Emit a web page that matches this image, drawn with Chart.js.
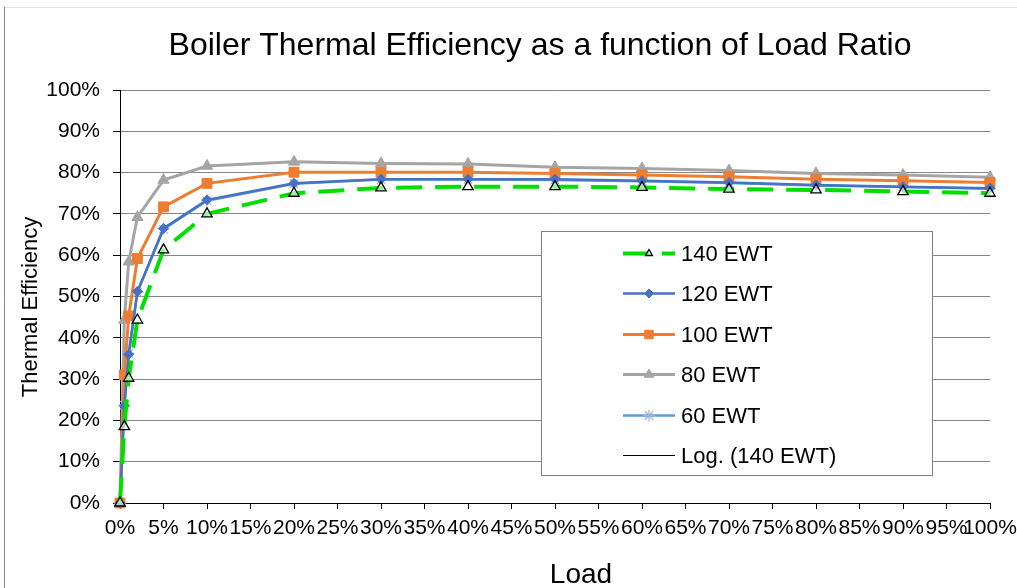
<!DOCTYPE html>
<html>
<head>
<meta charset="utf-8">
<script src="https://cdn.jsdelivr.net/npm/chart.js@4/dist/chart.umd.min.js"></script>
<style>
  html, body { margin: 0; padding: 0; background: #fff; }
  #wrap { width: 1017px; height: 588px; }
</style>
</head>
<body>
<div id="wrap"><canvas id="effChart" width="1017" height="588"></canvas></div>
<script>
// --- DATA ---
const chartTitle = 'Boiler Thermal Efficiency as a function of Load Ratio';
const xTitle = 'Load';
const yTitle = 'Thermal Efficiency';

// load ratio in %
const loadPct = [0, 0.5, 1, 2, 5, 10, 20, 30, 40, 50, 60, 70, 80, 90, 100];

// thermal efficiency in %, one list per entering water temperature
const ewt140 = [0, 18.5, 30.2, 44.3, 61.3, 70.0, 75.0, 76.3, 76.6, 76.6, 76.4, 76.0, 75.8, 75.4, 75.0];
const ewt120 = [0, 23.5, 36.0, 51.2, 66.5, 73.4, 77.4, 78.4, 78.4, 78.4, 78.0, 77.6, 77.0, 76.6, 76.2];
const ewt100 = [0, 31.0, 45.3, 59.2, 71.7, 77.4, 80.1, 80.1, 80.1, 79.8, 79.4, 79.0, 78.4, 78.0, 77.6];
const ewt80  = [0, 44.3, 58.4, 69.2, 78.2, 81.6, 82.6, 82.2, 82.1, 81.3, 81.0, 80.5, 79.8, 79.4, 78.9];
const ewt60  = [0, 23.7, 36.2, 51.0, 66.3, 73.2, 77.3, 78.3, 78.3, 78.2, 77.9, 77.5, 76.9, 76.5, 76.1];

const seriesLabels = ['140 EWT', '120 EWT', '100 EWT', '80 EWT', '60 EWT', 'Log. (140 EWT)'];

const fontFamily = '"Liberation Sans", Arial, sans-serif';

function toPoints(values) {
    return values.map((v, i) => ({ x: loadPct[i], y: v }));
}

const datasets = [
    {
        label: seriesLabels[0], data: toPoints(ewt140),
        borderColor: '#00e000', borderWidth: 4, borderDash: [26, 13],
        pointStyle: 'triangle', pointRadius: 6, pointBackgroundColor: 'rgba(255,255,255,0.6)',
        pointBorderColor: '#000', pointBorderWidth: 1.3, legendRadius: 4
    },
    {
        label: seriesLabels[1], data: toPoints(ewt120),
        borderColor: '#4472c4', borderWidth: 2.5,
        pointStyle: 'rectRot', pointRadius: 5, pointBackgroundColor: '#4472c4',
        pointBorderColor: '#4472c4', pointBorderWidth: 1, legendRadius: 4.5
    },
    {
        label: seriesLabels[2], data: toPoints(ewt100),
        borderColor: '#ed7d31', borderWidth: 3,
        pointStyle: 'rect', pointRadius: 7, pointBackgroundColor: '#ed7d31',
        pointBorderColor: '#ed7d31', pointBorderWidth: 1, legendRadius: 6
    },
    {
        label: seriesLabels[3], data: toPoints(ewt80),
        borderColor: '#a5a5a5', borderWidth: 3,
        pointStyle: 'triangle', pointRadius: 6.5, pointBackgroundColor: '#a5a5a5',
        pointBorderColor: '#a5a5a5', pointBorderWidth: 1, legendRadius: 5.5
    },
    {
        label: seriesLabels[4], data: toPoints(ewt60),
        borderColor: '#5b9bd5', borderWidth: 2.5,
        pointStyle: 'star', pointRadius: 6, pointBackgroundColor: '#9fb4cf',
        pointBorderColor: '#9fb4cf', pointBorderWidth: 1.2, legendRadius: 6
    },
    {
        label: seriesLabels[5], data: [],
        borderColor: '#000', borderWidth: 1, pointRadius: 0, legendRadius: 0
    }
];
datasets.forEach(ds => { ds.clip = false; });

// titles, frame and the boxed legend inside the plot
const extrasPlugin = {
    id: 'extras',
    beforeDraw(chart) {
        const ctx = chart.ctx;
        ctx.save();
        ctx.lineWidth = 1;
        ctx.strokeStyle = '#e2e2e2';
        ctx.beginPath();
        ctx.moveTo(4, 7.5);
        ctx.lineTo(1017, 7.5);
        ctx.stroke();
        ctx.strokeStyle = '#8a8a8a';
        ctx.beginPath();
        ctx.moveTo(4.5, 7);
        ctx.lineTo(4.5, 588);
        ctx.stroke();
        ctx.restore();
    },
    afterDraw(chart) {
        const ctx = chart.ctx;
        ctx.save();
        ctx.fillStyle = '#000';
        ctx.textAlign = 'center';
        ctx.textBaseline = 'alphabetic';

        // chart title, narrow face if available
        ctx.font = '32px "Liberation Sans Narrow", "Arial Narrow", sans-serif';
        if (ctx.measureText(chartTitle).width > 760) {
            ctx.font = '26px ' + fontFamily;
        }
        ctx.fillText(chartTitle, 540, 55);

        ctx.font = '28px ' + fontFamily;
        ctx.fillText(xTitle, 581, 583);

        ctx.save();
        ctx.translate(37, 307);
        ctx.rotate(-Math.PI / 2);
        ctx.font = '22px ' + fontFamily;
        ctx.fillText(yTitle, 0, 0);
        ctx.restore();

        // legend box
        ctx.fillStyle = '#fff';
        ctx.fillRect(541, 231, 391, 244);
        ctx.strokeStyle = '#808080';
        ctx.lineWidth = 1;
        ctx.strokeRect(541.5, 231.5, 391, 244);

        chart.data.datasets.forEach((ds, i) => {
            const y = Math.round(253 + i * 40.4) + 0.5;
            ctx.save();
            ctx.strokeStyle = ds.borderColor;
            ctx.lineWidth = ds.borderWidth;
            ctx.setLineDash(ds.borderDash || []);
            ctx.beginPath();
            ctx.moveTo(623, y);
            ctx.lineTo(675, y);
            ctx.stroke();
            ctx.setLineDash([]);
            if (ds.legendRadius > 0) {
                ctx.fillStyle = ds.pointBackgroundColor;
                ctx.strokeStyle = ds.pointBorderColor;
                ctx.lineWidth = ds.pointBorderWidth;
                Chart.helpers.drawPoint(ctx, {
                    pointStyle: ds.pointStyle, radius: ds.legendRadius,
                    borderWidth: ds.pointBorderWidth, rotation: 0
                }, 649, y);
            }
            ctx.restore();
            ctx.fillStyle = '#000';
            ctx.textAlign = 'left';
            ctx.textBaseline = 'middle';
            ctx.font = '22px ' + fontFamily;
            ctx.fillText(ds.label, 681, y + 1);
        });
        ctx.restore();
    }
};

const ctx = document.getElementById('effChart').getContext('2d');
new Chart(ctx, {
    type: 'line',
    data: { datasets: datasets },
    options: {
        responsive: false,
        animation: false,
        layout: { padding: { left: 0, right: 0, top: 90, bottom: 0 } },
        plugins: {
            legend: { display: false },
            title: { display: false },
            tooltip: { enabled: false }
        },
        scales: {
            x: {
                type: 'linear',
                min: 0,
                max: 100,
                afterFit(scale) {
                    scale.height = 85;
                    scale.paddingRight = 27;
                    scale.paddingLeft = 0;
                },
                ticks: {
                    stepSize: 5,
                    autoSkip: false,
                    maxRotation: 0,
                    padding: 7,
                    color: '#000',
                    font: { size: 21, family: fontFamily },
                    callback: v => v + '%'
                },
                grid: { drawOnChartArea: false, tickLength: 6, tickColor: '#000' },
                border: { color: '#000' }
            },
            y: {
                min: 0,
                max: 100,
                afterFit(scale) { scale.width = 120; },
                ticks: {
                    stepSize: 10,
                    padding: 13,
                    color: '#000',
                    font: { size: 21, family: fontFamily },
                    callback: v => v + '%'
                },
                grid: { color: '#868686', tickLength: 7, tickColor: '#000' },
                border: { color: '#000' }
            }
        }
    },
    plugins: [extrasPlugin]
});
</script>
</body>
</html>
